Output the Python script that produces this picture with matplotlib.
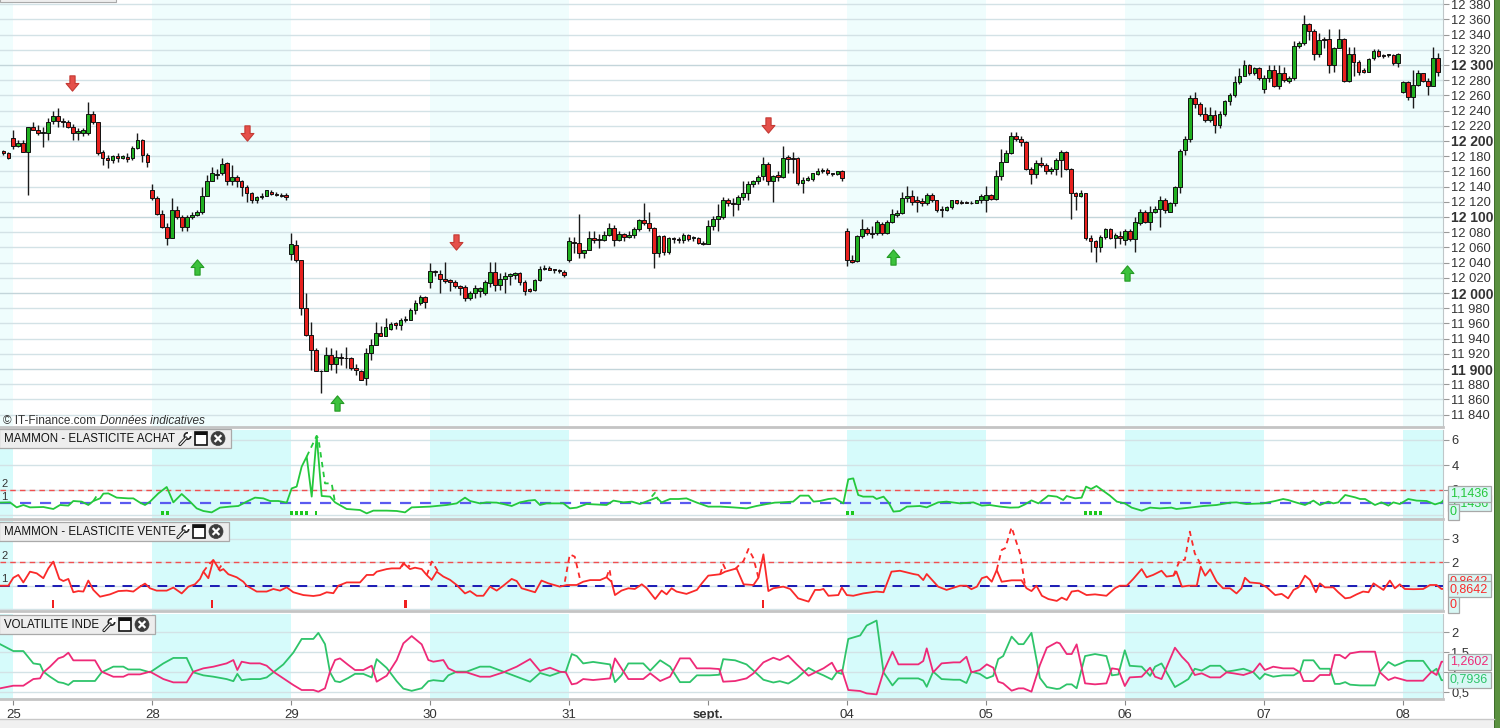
import matplotlib
matplotlib.use("Agg")
import matplotlib.pyplot as plt
from matplotlib.patches import Rectangle, Circle
from matplotlib.path import Path
import numpy as np

plt.rcParams['font.family'] = ['Liberation Sans', 'DejaVu Sans']

# ---------------- DATA ----------------
# OHLC per day (open, high, low, close), 30-minute bars
day24 = [(12187, 12188, 12181, 12184), (12184, 12185, 12176, 12178)]
day25 = [(12204,12215,12190,12193),(12193,12201,12192,12198),(12198,12201,12185,12186),(12186,12219,12129,12218),
         (12218,12225,12214,12215),(12215,12221,12208,12211),(12210,12219,12192,12212),(12210,12230,12201,12225),
         (12226,12239,12223,12233),(12233,12243,12219,12226),(12226,12230,12219,12225),(12225,12228,12217,12219),
         (12218,12223,12201,12210),(12210,12217,12201,12213),(12210,12217,12206,12214),(12210,12251,12208,12236),
         (12236,12239,12223,12225),(12225,12225,12182,12184),(12185,12188,12168,12177),(12177,12181,12164,12175),
         (12175,12181,12171,12180),(12180,12184,12173,12177),(12178,12182,12176,12180),(12179,12184,12173,12176),
         (12177,12193,12175,12191),(12191,12211,12190,12201),(12201,12202,12173,12182),(12182,12184,12166,12172)]
day28 = [(12136,12144,12122,12125),(12125,12127,12103,12104),(12104,12109,12085,12087),(12087,12092,12063,12073),
         (12073,12125,12072,12109),(12109,12114,12098,12100),(12100,12103,12081,12087),(12087,12103,12081,12100),
         (12100,12107,12098,12103),(12103,12109,12101,12106),(12106,12140,12104,12128),(12128,12155,12127,12148),
         (12148,12166,12147,12158),(12155,12163,12150,12157),(12158,12177,12155,12170),(12171,12172,12142,12147),
         (12147,12168,12142,12153),(12153,12155,12140,12147),(12147,12149,12127,12139),(12139,12142,12120,12131),
         (12131,12133,12118,12122),(12122,12128,12118,12126),(12126,12131,12124,12127),(12127,12136,12127,12135),
         (12133,12136,12129,12130),(12130,12133,12127,12129),(12129,12132,12126,12128),(12129,12132,12122,12126)]
day29 = [(12051,12079,12043,12065),(12063,12070,12041,12043),(12043,12044,11971,11980),(11980,12000,11943,11945),
         (11945,11962,11899,11925),(11925,11927,11897,11898),(11898,11899,11868,11897),(11898,11929,11897,11919),
         (11919,11927,11899,11907),(11907,11925,11895,11916),(11916,11921,11905,11915),(11915,11929,11901,11914),
         (11914,11916,11899,11901),(11901,11907,11892,11899),(11897,11899,11886,11886),(11888,11927,11879,11921),
         (11921,11940,11912,11932),(11932,11962,11932,11947),(11947,11956,11943,11944),(11944,11967,11943,11955),
         (11953,11962,11951,11959),(11960,11962,11953,11958),(11958,11967,11951,11965),(11964,11970,11962,11966),
         (11965,11980,11964,11977),(11977,11991,11973,11987),(11987,11997,11984,11995),(11995,11996,11980,11988)]
day30 = [(12015,12039,12006,12029),(12029,12030,12022,12027),(12025,12030,12000,12018),(12018,12041,12013,12016),
         (12017,12019,12002,12015),(12015,12017,12006,12009),(12009,12011,11997,12007),(12008,12011,11989,11993),
         (11993,12003,11991,12000),(12000,12011,11993,12006),(12003,12008,11995,12006),(12000,12017,11997,12014),
         (12013,12041,12008,12028),(12028,12041,12002,12011),(12011,12026,12004,12018),(12018,12028,12000,12022),
         (12023,12026,12011,12025),(12024,12028,12019,12026),(12026,12028,12011,12015),(12015,12017,11997,12003),
         (12005,12006,12001,12003),(12004,12019,12003,12017),(12017,12035,12016,12031),(12031,12037,12030,12033),
         (12033,12036,12030,12030),(12031,12032,12026,12030),(12030,12032,12026,12029),(12028,12030,12021,12024)]
day31 = [(12043,12074,12041,12068),(12067,12074,12052,12066),(12066,12104,12046,12052),(12052,12057,12046,12056),
         (12057,12081,12056,12073),(12073,12082,12066,12070),(12070,12078,12059,12070),(12070,12081,12069,12076),
         (12076,12092,12075,12086),(12086,12090,12062,12070),(12070,12081,12068,12077),(12077,12079,12068,12074),
         (12074,12081,12072,12076),(12076,12087,12072,12084),(12084,12098,12082,12096),(12096,12118,12090,12092),
         (12092,12107,12081,12086),(12086,12087,12033,12053),(12053,12076,12048,12075),(12075,12076,12050,12054),
         (12054,12074,12051,12072),(12072,12074,12066,12071),(12071,12074,12066,12070),(12070,12079,12066,12076),
         (12076,12078,12068,12071),(12072,12075,12069,12074),(12073,12074,12065,12066),(12066,12068,12063,12065)]
day01 = [(12065,12096,12065,12088),(12088,12101,12083,12098),(12098,12117,12082,12101),(12100,12126,12098,12122),
         (12122,12125,12114,12118),(12118,12125,12101,12117),(12117,12129,12109,12126),(12126,12148,12123,12132),
         (12132,12147,12123,12143),(12143,12149,12140,12147),(12147,12155,12144,12153),(12154,12179,12149,12170),
         (12170,12172,12142,12148),(12148,12155,12120,12154),(12155,12160,12147,12153),(12153,12193,12151,12177),
         (12179,12182,12158,12176),(12177,12186,12158,12176),(12177,12179,12142,12145),(12145,12153,12131,12149),
         (12149,12154,12147,12151),(12150,12158,12148,12158),(12157,12165,12155,12161),(12161,12165,12158,12162),
         (12162,12164,12155,12158),(12158,12158,12154,12156),(12157,12161,12155,12161),(12161,12162,12148,12151)]
day04 = [(12082,12085,12035,12043),(12043,12050,12039,12041),(12042,12076,12041,12075),(12075,12098,12072,12084),
         (12084,12087,12076,12079),(12079,12088,12072,12078),(12079,12096,12076,12093),(12091,12094,12076,12079),
         (12079,12096,12078,12094),(12094,12111,12092,12104),(12103,12109,12100,12105),(12105,12133,12104,12125),
         (12125,12141,12120,12127),(12127,12135,12116,12120),(12122,12128,12106,12120),(12121,12125,12114,12118),
         (12118,12132,12116,12129),(12129,12132,12120,12122),(12122,12122,12107,12109),(12111,12114,12100,12109),
         (12109,12114,12108,12113),(12113,12123,12111,12122),(12122,12122,12117,12118),(12120,12122,12117,12119),
         (12120,12121,12118,12119),(12119,12121,12117,12118),(12119,12123,12118,12122),(12122,12130,12119,12128)]
day05 = [(12122,12141,12107,12129),(12129,12130,12122,12124),(12124,12162,12122,12154),(12154,12190,12149,12173),
         (12173,12188,12172,12184),(12184,12212,12183,12207),(12207,12212,12200,12202),(12202,12206,12193,12199),
         (12199,12200,12162,12163),(12163,12166,12143,12157),(12157,12175,12151,12171),(12171,12179,12166,12169),
         (12169,12171,12157,12160),(12160,12166,12157,12163),(12163,12177,12155,12175),(12175,12188,12153,12186),
         (12186,12187,12162,12163),(12163,12164,12098,12131),(12131,12133,12109,12128),(12128,12135,12126,12131),
         (12131,12132,12070,12072),(12073,12076,12054,12068),(12068,12070,12041,12061),(12061,12076,12054,12074),
         (12074,12086,12071,12084),(12084,12086,12071,12073),(12073,12079,12059,12076),(12075,12081,12065,12072)]
day06 = [(12070,12084,12063,12082),(12082,12084,12068,12071),(12071,12100,12054,12093),(12092,12110,12090,12107),
         (12107,12109,12092,12094),(12094,12114,12083,12106),(12106,12114,12105,12111),(12110,12127,12087,12122),
         (12122,12125,12105,12109),(12107,12120,12106,12118),(12118,12141,12114,12139),(12139,12190,12132,12187),
         (12188,12207,12182,12202),(12202,12261,12199,12256),(12256,12265,12244,12249),(12249,12251,12233,12236),
         (12236,12245,12225,12228),(12228,12245,12225,12234),(12234,12241,12211,12221),(12221,12239,12217,12236),
         (12236,12254,12233,12252),(12252,12263,12247,12261),(12261,12285,12258,12277),(12277,12296,12275,12286),
         (12286,12306,12285,12300),(12300,12301,12287,12289),(12289,12298,12287,12296),(12296,12298,12280,12283)]
day07 = [(12268,12287,12263,12283),(12283,12300,12278,12293),(12293,12300,12271,12272),(12272,12300,12269,12290),
         (12290,12298,12278,12280),(12279,12286,12276,12283),(12283,12331,12280,12325),(12325,12331,12323,12329),
         (12329,12366,12326,12354),(12354,12355,12333,12345),(12345,12347,12307,12315),(12315,12342,12311,12333),
         (12334,12337,12322,12333),(12334,12348,12289,12300),(12300,12324,12291,12322),(12323,12348,12322,12334),
         (12334,12335,12278,12279),(12279,12324,12278,12315),(12315,12324,12285,12304),(12304,12307,12287,12291),
         (12293,12296,12289,12291),(12291,12309,12291,12308),(12309,12321,12307,12319),(12319,12321,12310,12312),
         (12313,12315,12309,12312),(12313,12315,12310,12314),(12313,12315,12300,12302),(12302,12316,12298,12315)]
day08 = [(12265,12279,12263,12277),(12277,12279,12254,12258),(12258,12294,12243,12274),(12274,12293,12272,12290),
         (12290,12290,12278,12279),(12279,12283,12261,12272),(12272,12324,12272,12309),(12309,12316,12285,12291)]

day_labels = ['25', '28', '29', '30', '31', 'sept.', '04', '05', '06', '07', '08']
shaded_days = [False, True, False, True, False, False, True, False, True, False, True]

# signal arrows (bar index, price)
sell_idx = [11.8, 47.1, 89.2, 152.0]
sell_price = [12276, 12210, 12067, 12221]
buy_idx = [37.0, 65.2, 177.2, 224.4]
buy_price = [12034, 11855, 12047, 12026]

# MAMMON - ELASTICITE ACHAT
achat_x = [-2.68,-0.67,0.68,2.02,3.36,6.05,8.06,9.41,11.09,12.09,13.77,15.11,16.12,17.47,18.14,19.14,20.82,23.17,24.18,
           25.52,26.53,27.54,29.22,30.9,32.24,33.92,35.6,36.94,38.28,39.96,41.64,43.65,45.33,47.01,48.69,50.37,51.71,
           53.39,55.07,56.08,57.08,58.09,59.1,60.11,61.11,62.12,63.8,64.81,67.16,69.84,71.19,72.53,75.21,77.23,78.91,
           80.25,83.94,87.3,89.32,90.99,92.0,
           94.01,95.35,97.37,98.71,100.39,102.07,103.75,105.09,106.1,107.4,110.8,112.1,113.5,115.5,119.5,120.9,122.9,
           124.6,126.2,128.3,129.6,130.6,132.3,134.0,135.6,137.7,140.0,142.4,145.0,147.7,149.7,151.8,153.4,154.8,157.1,
           158.5,160.2,161.2,162.5,164.2,165.5,167.2,168.2,169.2,170.2,171.2,173.2,173.9,175.3,176.3,177.3,178.6,180.0,
           182.6,184.0,186.3,188.0,
           190.7,193.4,195.1,196.7,198.8,200.8,202.5,203.8,205.1,206.5,208.5,210.2,211.5,212.2,213.9,215.2,216.1,217.1,
           218.2,219.6,220.9,222.3,223.9,225.3,227.3,229.0,231.0,233.3,234.3,237.0,239.7,242.4,245.1,246.4,248.4,251.8,
           254.2,255.8,256.8,258.5,260.2,261.9,263.2,264.9,265.9,266.9,268.3,270.3,271.3,272.3,274.3,275.6,277.0,278.0,
           279.3,281.0,282.7,284.7,286.4,287.7,288.0]
achat_v = [0.99,1.01,0.61,0.80,0.61,0.64,0.48,0.80,0.75,1.12,1.07,0.80,1.12,1.33,1.71,1.73,1.39,1.33,1.33,
           0.99,0.80,1.07,1.73,2.24,1.01,1.68,1.07,0.53,0.32,0.21,0.59,0.67,0.72,1.07,1.39,1.33,1.12,
           1.12,0.99,2.13,2.27,3.87,4.67,1.47,6.32,1.52,1.47,1.01,0.48,0.40,0.13,0.35,0.35,0.32,0.21,
           0.61,0.67,0.80,0.93,1.39,1.12,
           0.93,1.01,0.99,0.88,0.72,1.01,1.15,1.20,0.80,0.93,0.93,0.53,0.59,0.88,0.80,1.15,1.01,
           1.07,0.88,1.20,1.39,1.01,1.28,1.28,1.33,0.99,0.67,0.67,0.61,0.53,0.72,0.88,0.99,1.01,1.07,
           1.55,1.55,1.07,1.12,1.28,1.33,0.93,2.85,2.93,1.60,1.47,1.47,1.28,1.47,1.01,0.27,0.32,0.67,
           0.72,0.61,1.01,1.07,
           0.93,1.01,0.75,0.80,0.67,0.59,0.61,0.85,1.17,0.93,1.55,1.47,1.20,1.52,1.33,1.39,2.27,2.08,
           2.32,1.92,1.55,1.07,0.93,0.59,0.35,0.59,0.53,0.59,0.48,0.59,0.72,0.80,0.99,1.01,0.88,0.93,
           1.12,1.28,1.20,0.99,0.80,1.15,0.80,1.07,0.93,1.01,1.60,1.41,1.28,1.28,0.80,1.01,0.75,1.01,
           0.88,1.28,1.15,1.12,0.85,1.01,1.1436]
achat_dash = [[(16.12, 1.12), (17.13, 1.73)],
              [(59.1, 4.67), (61.1, 6.32), (61.45, 6.13), (62.79, 2.53), (64.13, 2.53), (64.81, 1.01)],
              [(128.6, 1.47), (129.3, 1.79), (129.9, 1.20)]]
achat_signal_bars = [30, 31, 56, 57, 58, 59, 61, 168, 169, 216, 217, 218, 219]

# MAMMON - ELASTICITE VENTE
vente_x = [-2.68,-1.0,0.0,1.01,2.02,3.36,4.71,6.05,7.06,8.06,9.27,10.08,11.09,12.09,13.1,14.11,15.11,16.12,17.47,19.48,
           21.16,22.84,24.18,25.52,26.53,27.54,28.88,30.9,32.24,33.92,35.26,36.6,37.61,38.28,39.29,40.3,41.64,42.31,
           43.32,45.0,46.34,47.01,49.03,51.04,52.38,53.73,55.07,56.41,58.43,60.44,61.78,63.13,64.47,65.48,67.16,69.84,
           71.19,72.53,73.2,75.21,76.22,77.9,78.57,79.91,80.92,82.27,83.27,84.28,85.29,86.63,87.98,89.32,90.99,92.0,
           93.35,94.69,
           96.02,97.37,98.71,100.39,101.4,102.4,105.1,106.4,107.8,110.1,111.5,113.5,114.8,116.2,118.2,119.5,120.5,
           121.2,122.5,123.9,125.2,126.6,127.6,129.3,130.6,131.6,132.6,133.6,135.6,137.7,138.7,140.0,142.4,143.4,
           145.7,147.1,149.1,150.1,151.1,152.1,153.1,155.1,156.5,158.1,160.2,161.5,162.5,163.2,164.2,166.2,166.9,
           167.9,169.2,171.2,173.9,175.3,176.9,178.6,181.3,182.3,183.3,184.0,186.3,188.0,
           190.7,192.0,193.0,194.1,195.1,196.1,197.1,198.1,199.1,201.1,203.1,204.1,205.1,206.1,207.2,208.5,210.2,
           211.2,212.2,213.2,214.5,216.2,217.9,220.2,221.9,222.9,224.3,225.6,227.3,228.3,229.6,231.3,232.3,233.7,
           234.3,235.4,236.7,238.4,239.2,240.1,241.1,242.4,243.7,245.1,246.4,247.4,248.1,249.1,251.1,252.5,254.2,
           255.5,256.8,257.9,258.9,260.2,261.2,262.4,263.2,264.2,265.9,266.9,268.3,269.3,270.6,271.9,273.0,274.0,
           275.0,276.0,277.3,278.3,279.3,280.3,282.0,284.0,285.4,286.7,287.7,288.0]
vente_v = [1.00,1.00,1.34,1.46,1.14,1.60,1.53,1.32,1.74,2.03,1.29,1.20,1.29,0.72,0.77,0.75,1.22,0.82,0.53,0.63,
           0.77,0.79,0.75,0.96,1.09,0.89,0.79,0.79,0.92,0.67,0.96,1.06,1.29,1.60,1.32,2.10,1.64,1.71,
           1.49,1.36,1.17,1.00,0.75,0.75,0.86,0.79,0.93,0.72,0.60,0.56,0.60,0.72,0.68,1.00,1.14,1.14,
           1.46,1.46,1.60,1.71,1.74,1.74,1.96,1.71,1.77,1.71,1.46,1.25,1.60,1.39,1.25,1.03,0.67,0.77,
           0.57,0.57,
           0.96,0.79,1.00,1.29,1.20,0.89,0.72,1.22,1.10,0.96,1.03,1.03,1.17,1.24,1.24,1.36,1.17,
           0.60,0.79,0.89,0.86,1.06,0.89,0.43,0.79,0.63,0.89,0.75,0.65,0.82,1.10,1.43,1.49,1.60,
           1.74,1.06,1.03,1.34,2.34,0.77,0.89,0.96,0.86,0.46,0.32,0.82,0.82,0.86,0.57,0.60,0.92,
           0.60,0.57,0.67,0.75,0.72,1.60,1.64,1.50,1.46,1.24,1.50,0.96,0.82,
           1.00,1.00,0.85,0.96,1.32,1.39,1.17,1.67,1.17,1.23,1.23,0.89,0.77,1.00,0.57,0.43,0.35,
           0.49,0.39,0.75,0.79,0.60,0.63,0.57,0.89,1.00,1.00,1.29,1.71,1.36,1.46,1.64,1.39,1.43,
           1.60,0.96,1.00,1.00,1.81,1.43,1.70,1.17,0.89,0.89,0.67,0.89,1.34,1.14,1.10,0.93,0.60,
           0.65,0.46,0.82,0.93,1.43,1.25,0.72,1.10,0.93,0.93,0.72,0.46,0.49,0.63,0.75,0.72,1.10,
           0.96,0.82,1.22,0.89,1.06,0.86,0.85,0.86,1.03,1.03,0.86,0.8642]
vente_dash = [[(38.28, 1.60), (39.29, 1.88), (40.3, 2.10)],
              [(41.3, 1.67), (41.97, 1.89)],
              [(78.2, 1.81), (78.9, 2.0), (79.9, 1.81)],
              [(83.3, 1.46), (84.3, 2.03), (85.6, 1.60)],
              [(111.1, 1.17), (112.1, 2.34), (113.1, 2.24), (114.2, 1.24)],
              [(119.5, 1.36), (120.1, 1.71), (120.5, 1.17)],
              [(142.4, 1.49), (143.0, 1.91), (143.7, 1.60)],
              [(145.4, 1.71), (147.1, 2.06), (148.1, 2.57), (149.1, 2.17), (150.1, 1.34)],
              [(198.1, 1.67), (199.1, 2.53), (199.8, 2.60), (201.1, 3.50), (201.8, 3.03), (202.8, 2.38), (203.8, 1.03)],
              [(233.7, 1.43), (235.0, 2.10), (236.0, 2.10), (237.0, 3.31), (238.0, 2.38), (238.9, 2.03), (239.2, 1.81)]]
vente_signal_bars = [8, 40, 79, 151]

# VOLATILITE INDE (pink series; the green series is its reciprocal)
vol_x = [-2.68,0,2.02,4.04,5.38,6.05,7.39,9.07,10.08,11.09,12.09,14.11,16.46,17.8,20.15,22.17,23.17,25.52,27.54,30.22,
         32.24,34.92,36.27,38.28,40.3,41.64,42.98,44.33,45.13,46.0,47.68,49.7,51.04,52.38,54.4,56.41,58.09,60.44,61.45,
         62.79,63.8,64.81,65.81,67.49,68.83,70.51,72.19,73.2,75.21,77.23,78.57,80.25,82.27,83.61,84.62,86.63,87.64,
         89.32,91.33,94.02,96.02,98.71,101.4,104.1,106.1,108.1,110.1,111.3,112.5,113.5,114.8,116.8,120.2,121.2,122.5,
         123.9,126.9,128.3,130.3,132.3,134.3,136.3,137.7,140.3,142.2,143.0,145.4,147.7,149.1,151.1,153.1,154.4,156.1,
         157.8,160.2,161.8,163.2,164.9,165.9,166.9,168.2,170.6,171.9,173.9,175.3,177.1,178.3,182.3,183.3,184.0,185.3,
         187.0,189.4,190.7,192.0,193.0,194.7,196.1,197.4,198.4,199.4,201.1,202.5,203.5,205.1,206.8,208.2,210.2,210.8,
         212.2,213.2,214.2,215.9,217.9,220.2,221.3,222.6,223.9,224.9,227.3,229.0,230.0,231.3,234.0,235.4,236.7,238.0,
         239.4,241.1,243.1,244.4,245.8,247.8,249.8,251.1,252.1,253.8,255.8,257.9,259.2,259.9,261.9,263.2,265.2,266.2,
         267.2,268.3,269.3,271.3,274.3,275.3,277.0,278.3,280.7,284.0,285.7,286.7,287.7,288.0]
vol_pink = [0.587,0.654,0.654,0.822,0.839,0.991,1.134,1.344,1.386,1.487,1.294,1.294,1.294,1.008,0.881,0.881,0.94,0.94,
            1.008,0.822,0.738,0.738,1.008,1.092,1.134,1.176,1.218,1.302,1.05,1.26,1.218,1.218,1.159,1.008,0.839,0.671,
            0.545,0.545,0.503,0.587,1.008,1.302,1.344,1.176,1.05,1.05,1.159,0.755,0.906,1.302,1.723,1.908,1.698,1.302,
            1.26,1.302,1.092,0.991,0.991,0.881,0.881,0.991,1.134,1.327,1.025,1.109,1.008,0.991,0.688,0.713,0.822,0.797,
            0.839,1.344,1.092,0.822,0.822,0.966,0.772,0.881,1.344,1.344,1.092,1.092,1.075,0.755,0.772,0.839,0.966,1.243,
            1.361,1.302,1.412,1.193,0.906,1.008,1.092,1.235,1.008,1.05,0.545,0.52,0.46,0.435,1.008,1.513,1.193,1.193,
            1.277,1.597,0.991,1.218,1.243,1.243,1.386,0.991,1.05,1.193,1.109,0.755,0.713,0.528,0.587,0.587,0.503,1.176,
            1.614,1.749,1.723,1.454,1.454,1.698,0.713,0.688,0.713,1.092,1.067,0.646,0.864,0.881,1.109,0.881,0.822,1.614,
            1.386,1.218,0.924,0.966,0.864,0.864,0.991,0.966,0.924,1.008,1.218,1.05,1.134,1.092,1.092,0.991,0.772,0.772,
            0.924,0.924,1.429,1.429,1.344,1.471,1.513,1.513,0.991,0.797,0.864,0.78,0.78,1.008,0.924,1.26,1.2602]

# ---------------- FIGURE ----------------
W, H = 1500, 728
fig = plt.figure(figsize=(15, 7.28), dpi=100)
fig.patch.set_facecolor('white')

PLOT_RIGHT = 1443
X0, X1 = -2.68, 288.0
GRID = '#d3e2e6'
TXT = '#333333'


def rect(y0, y1):
    return [0, 1 - y1 / H, PLOT_RIGHT / W, (y1 - y0) / H]


def style_axes(ax):
    ax.set_xlim(X0, X1)
    ax.set_facecolor('white')
    for s in ['top', 'left']:
        ax.spines[s].set_visible(False)
    ax.spines['right'].set_color('#bfc7c9')
    ax.spines['bottom'].set_color('#c4c4c4')
    ax.spines['bottom'].set_linewidth(2)
    ax.yaxis.tick_right()
    ax.tick_params(axis='y', direction='out', length=4, width=0.8, color='#999999',
                   labelsize=9.3, labelcolor=TXT, pad=2)
    ax.set_xticks([])


days_all = [day25, day28, day29, day30, day31, day01, day04, day05, day06, day07, day08]
day_start = [28 * i for i in range(len(days_all))]


def shade(ax, color):
    ax.axvspan(X0, 0, color=color, lw=0, zorder=0)
    for i, sh in enumerate(shaded_days):
        if sh:
            end = day_start[i] + 28 if i + 1 < len(day_start) else X1
            ax.axvspan(day_start[i], end, color=color, lw=0, zorder=0)


# ---- main price panel ----
ax = fig.add_axes(rect(0, 427))
style_axes(ax)
ax.set_ylim(11823.7, 12385.5)
shade(ax, '#effdfd')
levels = list(range(11840, 12381, 20))
for lv in levels:
    ax.axhline(lv, color='#c3d5da' if lv % 100 == 0 else GRID, lw=1.0, zorder=1)
ax.set_yticks(levels)
ax.set_yticklabels([f"{lv // 1000} {lv % 1000:03d}" for lv in levels])
for lab, lv in zip(ax.get_yticklabels(), levels):
    if lv % 100 == 0:
        lab.set_fontweight('bold')
        lab.set_fontsize(10)

bars = [(-2 + k, b) for k, b in enumerate(day24)]
for d, dd in enumerate(days_all):
    for k, b in enumerate(dd):
        bars.append((day_start[d] + k, b))
xs = np.array([b[0] for b in bars], dtype=float)
o = np.array([b[1][0] for b in bars], dtype=float)
h = np.array([b[1][1] for b in bars], dtype=float)
l = np.array([b[1][2] for b in bars], dtype=float)
c = np.array([b[1][3] for b in bars], dtype=float)
ax.vlines(xs, l, h, color='#1a1a1a', lw=1.0, zorder=3)
up = c >= o
bottoms = np.minimum(o, c)
heights = np.maximum(np.abs(c - o), 0.9)
ax.bar(xs[up], heights[up], bottom=bottoms[up], width=0.74, color='#20b020',
       edgecolor='#111111', linewidth=0.7, zorder=4)
ax.bar(xs[~up], heights[~up], bottom=bottoms[~up], width=0.74, color='#e8201e',
       edgecolor='#111111', linewidth=0.7, zorder=4)

down_arrow = Path([(-0.17, 0.5), (0.17, 0.5), (0.17, 0.0), (0.42, 0.0), (0.0, -0.5),
                   (-0.42, 0.0), (-0.17, 0.0), (-0.17, 0.5)],
                  [Path.MOVETO] + [Path.LINETO] * 6 + [Path.CLOSEPOLY])
up_arrow = Path([(-0.17, -0.5), (0.17, -0.5), (0.17, 0.0), (0.42, 0.0), (0.0, 0.5),
                 (-0.42, 0.0), (-0.17, 0.0), (-0.17, -0.5)],
                [Path.MOVETO] + [Path.LINETO] * 6 + [Path.CLOSEPOLY])
ax.plot(sell_idx, sell_price, ls='none', marker=down_arrow, ms=11, mfc='#e5504a',
        mec='#c43a34', mew=0.8, zorder=6)
ax.plot(buy_idx, buy_price, ls='none', marker=up_arrow, ms=11, mfc='#3cc23c',
        mec='#249a24', mew=0.8, zorder=6)

# ---- ELASTICITE ACHAT ----
a2 = fig.add_axes(rect(430, 519))
style_axes(a2)
a2.set_ylim(-0.32, 6.8)
shade(a2, '#d6fbfb')
for lv in [0, 2, 4, 6]:
    a2.axhline(lv, color=GRID, lw=1.0, zorder=1)
a2.set_yticks([2, 4, 6])
a2.set_yticklabels(['2', '4', '6'])
a2.axhline(2, color='#f05050', lw=1.0, ls=(0, (4, 3)), zorder=2)
a2.axhline(1, color='#5a5af0', lw=1.6, ls=(0, (5, 4)), zorder=2)
a2.plot(achat_x, achat_v, color='#24c83c', lw=1.3, zorder=4)
for seg in achat_dash:
    a2.plot([p[0] for p in seg], [p[1] for p in seg], color='#24c83c', lw=1.3,
            ls=(0, (3, 2.5)), zorder=4)
a2.bar(achat_signal_bars, [0.32] * len(achat_signal_bars), bottom=0.0, width=0.55,
       color='#1ec81e', lw=0, zorder=5)

# ---- ELASTICITE VENTE ----
a3 = fig.add_axes(rect(521, 611))
style_axes(a3)
a3.set_ylim(-0.081, 3.765)
shade(a3, '#d6fbfb')
for lv in [0, 1, 2, 3]:
    a3.axhline(lv, color=GRID, lw=1.0, zorder=1)
a3.set_yticks([2, 3])
a3.set_yticklabels(['2', '3'])
a3.axhline(2, color='#f05050', lw=1.0, ls=(0, (4, 3)), zorder=2)
a3.axhline(1, color='#1a1ab4', lw=1.4, ls=(0, (5, 4)), zorder=2)
a3.plot(vente_x, vente_v, color='#fa2a2a', lw=1.3, zorder=4)
for seg in vente_dash:
    a3.plot([p[0] for p in seg], [p[1] for p in seg], color='#fa2a2a', lw=1.3,
            ls=(0, (3, 2.5)), zorder=4)
a3.bar(vente_signal_bars, [0.33] * len(vente_signal_bars), bottom=0.04, width=0.55,
       color='#f02020', lw=0, zorder=5)

# ---- VOLATILITE INDE ----
a4 = fig.add_axes(rect(614, 699))
style_axes(a4)
a4.set_ylim(0.318, 2.465)
shade(a4, '#d6fbfb')
for lv in [0.5, 1.0, 1.5, 2.0]:
    a4.axhline(lv, color=GRID, lw=1.0, zorder=1)
a4.set_yticks([0.5, 1.0, 1.5, 2.0])
a4.set_yticklabels(['0,5', '1', '1,5', '2'])
vol_green = [1.0 / v for v in vol_pink]
a4.plot(vol_x, vol_green, color='#2ec46a', lw=1.3, zorder=4)
a4.plot(vol_x, vol_pink, color='#ee2a78', lw=1.3, zorder=4)
a4.set_xticks(day_start)
a4.set_xticklabels(day_labels)
a4.tick_params(axis='x', direction='out', length=4, color='#888888', labelsize=9.5,
               labelcolor=TXT, pad=3)
for lab, t in zip(a4.get_xticklabels(), day_labels):
    if t == 'sept.':
        lab.set_fontweight('bold')

# ---- overlay in pixel coordinates ----
ov = fig.add_axes([0, 0, 1, 1], zorder=20)
ov.set_xlim(0, W)
ov.set_ylim(H, 0)
ov.axis('off')
ov.patch.set_alpha(0)

# green right border
ov.add_patch(Rectangle((1494, 0), 6, H, color='#5a9140', lw=0))
ov.add_patch(Rectangle((1494, 0), 1.2, H, color='#3f6e2c', lw=0))
# bottom strip
ov.add_patch(Rectangle((0, 719), 1494, 9, color='#f0f0f0', lw=0))
ov.plot([0, 1494], [719, 719], color='#c8c8c8', lw=1)
# top-left remnant box
ov.add_patch(Rectangle((0, -6), 116, 8, facecolor='#eeeeee', edgecolor='#aaaaaa', lw=0.8))

# copyright
ov.text(3, 421, '© IT-Finance.com', fontsize=8.5, color=TXT, va='center', ha='left')
ov.text(100, 421, 'Données indicatives', fontsize=8.5, color=TXT, va='center', ha='left',
        style='italic')


def title_box(x1, y0, y1, label):
    ov.add_patch(Rectangle((-1, y0), x1 + 1, y1 - y0, facecolor='#ededed', edgecolor='#a9a9a9', lw=0.9))
    ov.text(4, (y0 + y1) / 2 + 0.5, label, fontsize=8.3, color='#111111', va='center', ha='left')
    cy = (y0 + y1) / 2
    # icons: wrench, window, close
    wx = x1 - 47
    ov.plot([wx - 4, wx + 2], [cy + 6, cy - 0.5], color='#222222', lw=2.4, solid_capstyle='round')
    ov.plot([wx - 4, wx + 2], [cy + 6, cy - 0.5], color='white', lw=0.9, solid_capstyle='round')
    ov.add_patch(Circle((wx + 3.5, cy - 2.5), 3.2, facecolor='white', edgecolor='#222222', lw=1.2))
    ov.add_patch(Rectangle((wx + 4, cy - 6.5), 3.5, 3.5, facecolor='white', edgecolor='white', lw=0))
    bx = x1 - 36
    ov.add_patch(Rectangle((bx, cy - 6.5), 12, 13, facecolor='white', edgecolor='#111111', lw=1.2))
    ov.add_patch(Rectangle((bx, cy - 6.5), 12, 3, facecolor='#111111', lw=0))
    cx = x1 - 13
    ov.add_patch(Circle((cx, cy), 7, facecolor='#3d3d3d', edgecolor='#3d3d3d', lw=0.5))
    ov.plot([cx - 2.6, cx + 2.6], [cy - 2.6, cy + 2.6], color='white', lw=1.6)
    ov.plot([cx - 2.6, cx + 2.6], [cy + 2.6, cy - 2.6], color='white', lw=1.6)


title_box(231, 429, 448, 'MAMMON - ELASTICITE ACHAT')
title_box(229, 522, 541, 'MAMMON - ELASTICITE VENTE')
title_box(155, 615, 634, 'VOLATILITE INDE')

# small left level labels
for (ly, t) in [(484, '2'), (497, '1'), (556, '2'), (579, '1')]:
    ov.text(1, ly, t, fontsize=8, color=TXT, va='center', ha='left')


def value_box(x, y, txt, color):
    ov.text(x, y, txt, fontsize=9.0, color=color, va='center', ha='left',
            bbox=dict(boxstyle='square,pad=0.18', facecolor='#d8f7f4', edgecolor='#a8a8a8', lw=0.9))


value_box(1450, 503, '1,1436', '#24c83c')
value_box(1450, 494, '1,1436', '#24c83c')
value_box(1450, 512, '0', '#24c83c')
value_box(1450, 582, '0,8642', '#fa2a2a')
value_box(1450, 589, '0,8642', '#fa2a2a')
value_box(1450, 605, '0', '#fa2a2a')
value_box(1450, 662, '1,2602', '#ee2a78')
value_box(1450, 680, '0,7936', '#2ec46a')

fig.savefig('out.png', dpi=100)
